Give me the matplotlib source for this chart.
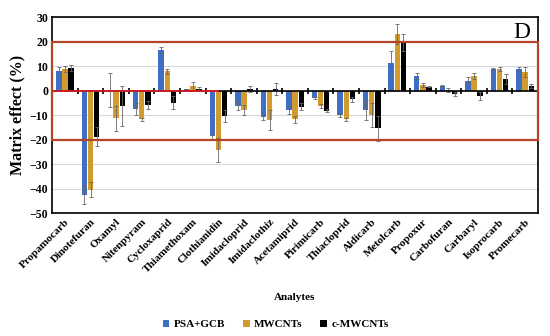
import numpy as np
import matplotlib.pyplot as plt
from matplotlib.patches import Rectangle

plt.rcParams['font.family'] = ['Liberation Serif', 'DejaVu Serif']
plt.rcParams['font.weight'] = 'bold'

analytes = ['Propamocarb', 'Dinotefuran', 'Oxamyl', 'Nitenpyram', 'Cycloxaprid',
            'Thiamethoxam', 'Clothianidin', 'Imidacloprid', 'Imidaclothiz',
            'Acetamiprid', 'Pirimicarb', 'Thiacloprid', 'Aldicarb', 'Metolcarb',
            'Propoxur', 'Carbofuran', 'Carbaryl', 'Isoprocarb', 'Promecarb']

psa_gcb = [7.8, -42.5, 0.2, -7.5, 16.7, 0.5, -18.6, -6.1, -10.9, -7.9,
           -3.1, -10.0, -7.9, 11.2, 6.0, 1.9, 4.1, 8.8, 8.9]
psa_err = [1.8, 4.0, 7.0, 2.5, 1.3, 0.3, 1.0, 2.0, 1.0, 1.5,
           0.5, 0.8, 4.0, 5.0, 1.3, 0.5, 1.5, 0.3, 0.8]
mwcnt = [8.9, -40.5, -11.3, -11.7, 7.8, 1.8, -24.3, -7.9, -12.0, -11.7,
         -6.3, -11.7, -10.0, 23.2, 2.3, 0.3, 6.0, 9.0, 7.7]
mwcnt_err = [1.3, 3.0, 5.0, 0.6, 1.2, 1.7, 5.0, 2.0, 4.0, 1.5,
             1.0, 0.7, 5.0, 4.0, 1.0, 0.7, 1.3, 0.8, 2.0]
emwcnt = [9.2, -18.8, -6.3, -5.9, -4.9, 0.8, -10.5, 0.7, 0.8, -6.5,
          -8.2, -3.5, -15.4, 19.7, 1.6, -1.4, -2.2, 4.7, 1.9]
emwcnt_err = [1.3, 4.0, 8.0, 1.5, 2.5, 0.5, 2.5, 1.2, 2.5, 1.5,
              0.5, 1.0, 5.0, 3.5, 0.3, 0.8, 1.5, 2.0, 0.7]

series = [('PSA+GCB', psa_gcb, psa_err, '#3E6FC4'),
          ('MWCNTs', mwcnt, mwcnt_err, '#D39B2E'),
          ('c-MWCNTs', emwcnt, emwcnt_err, '#000000')]

n = len(analytes)

fig = plt.figure(figsize=(5.5, 3.36), dpi=100)
ax = fig.add_axes([0.095, 0.366, 0.883, 0.583])

x = np.arange(n)
w = 0.21
offsets = [-0.24, 0, 0.24]
for (name, vals, errs, col), off in zip(series, offsets):
    ax.bar(x + off, vals, w, color=col, label=name, zorder=3,
           yerr=errs, error_kw=dict(ecolor='#666666', elinewidth=0.6,
                                    capsize=1.2, capthick=0.6, zorder=4))

ax.set_xlim(-0.5, n - 0.5)
ax.set_ylim(-50, 30)
ax.set_yticks(range(-50, 31, 10))
ax.yaxis.grid(True, color='#d9d9d9', lw=0.8, zorder=0)
ax.tick_params(axis='y', length=0, labelsize=8.5, pad=3)
ax.set_xticks(x)
ax.set_xticklabels(analytes, rotation=45, ha='right', rotation_mode='anchor',
                   fontsize=8, fontweight='bold')
ax.tick_params(axis='x', length=0, pad=3)
for lab in ax.get_yticklabels():
    lab.set_fontweight('bold')
for s in ax.spines.values():
    s.set_linewidth(1.2)

# zero line with category tick marks
ax.axhline(0, color='black', lw=1.2, zorder=5)
ax.plot(np.arange(n + 1) - 0.5, np.zeros(n + 1), ls='none', marker='|',
        ms=4, mew=1.2, color='black', zorder=5)
ax.plot([-0.5, 6.0], [0, 0], color='#E8202A', lw=1.2, zorder=5.5)

# +/-20 % band
ax.add_patch(Rectangle((-0.5, -20), n, 40, fill=False, edgecolor='#B5432A',
                       lw=1.6, zorder=6, clip_on=False))

ax.text(0.985, 0.975, 'D', transform=ax.transAxes, ha='right', va='top',
        fontsize=17, fontweight='normal')

ax.set_ylabel('Matrix effect (%)', fontsize=11.5, fontweight='bold', labelpad=3)
ax.set_xlabel('Analytes', fontsize=8, fontweight='bold')
ax.xaxis.set_label_coords(0.5, -0.41)

ax.legend(loc='upper center', bbox_to_anchor=(0.46, -0.495), ncol=3,
          frameon=False, fontsize=8, handlelength=0.6, handleheight=0.6,
          handletextpad=0.4, columnspacing=1.6,
          prop=dict(weight='bold', size=8))

fig.savefig('out.png', dpi=100)
